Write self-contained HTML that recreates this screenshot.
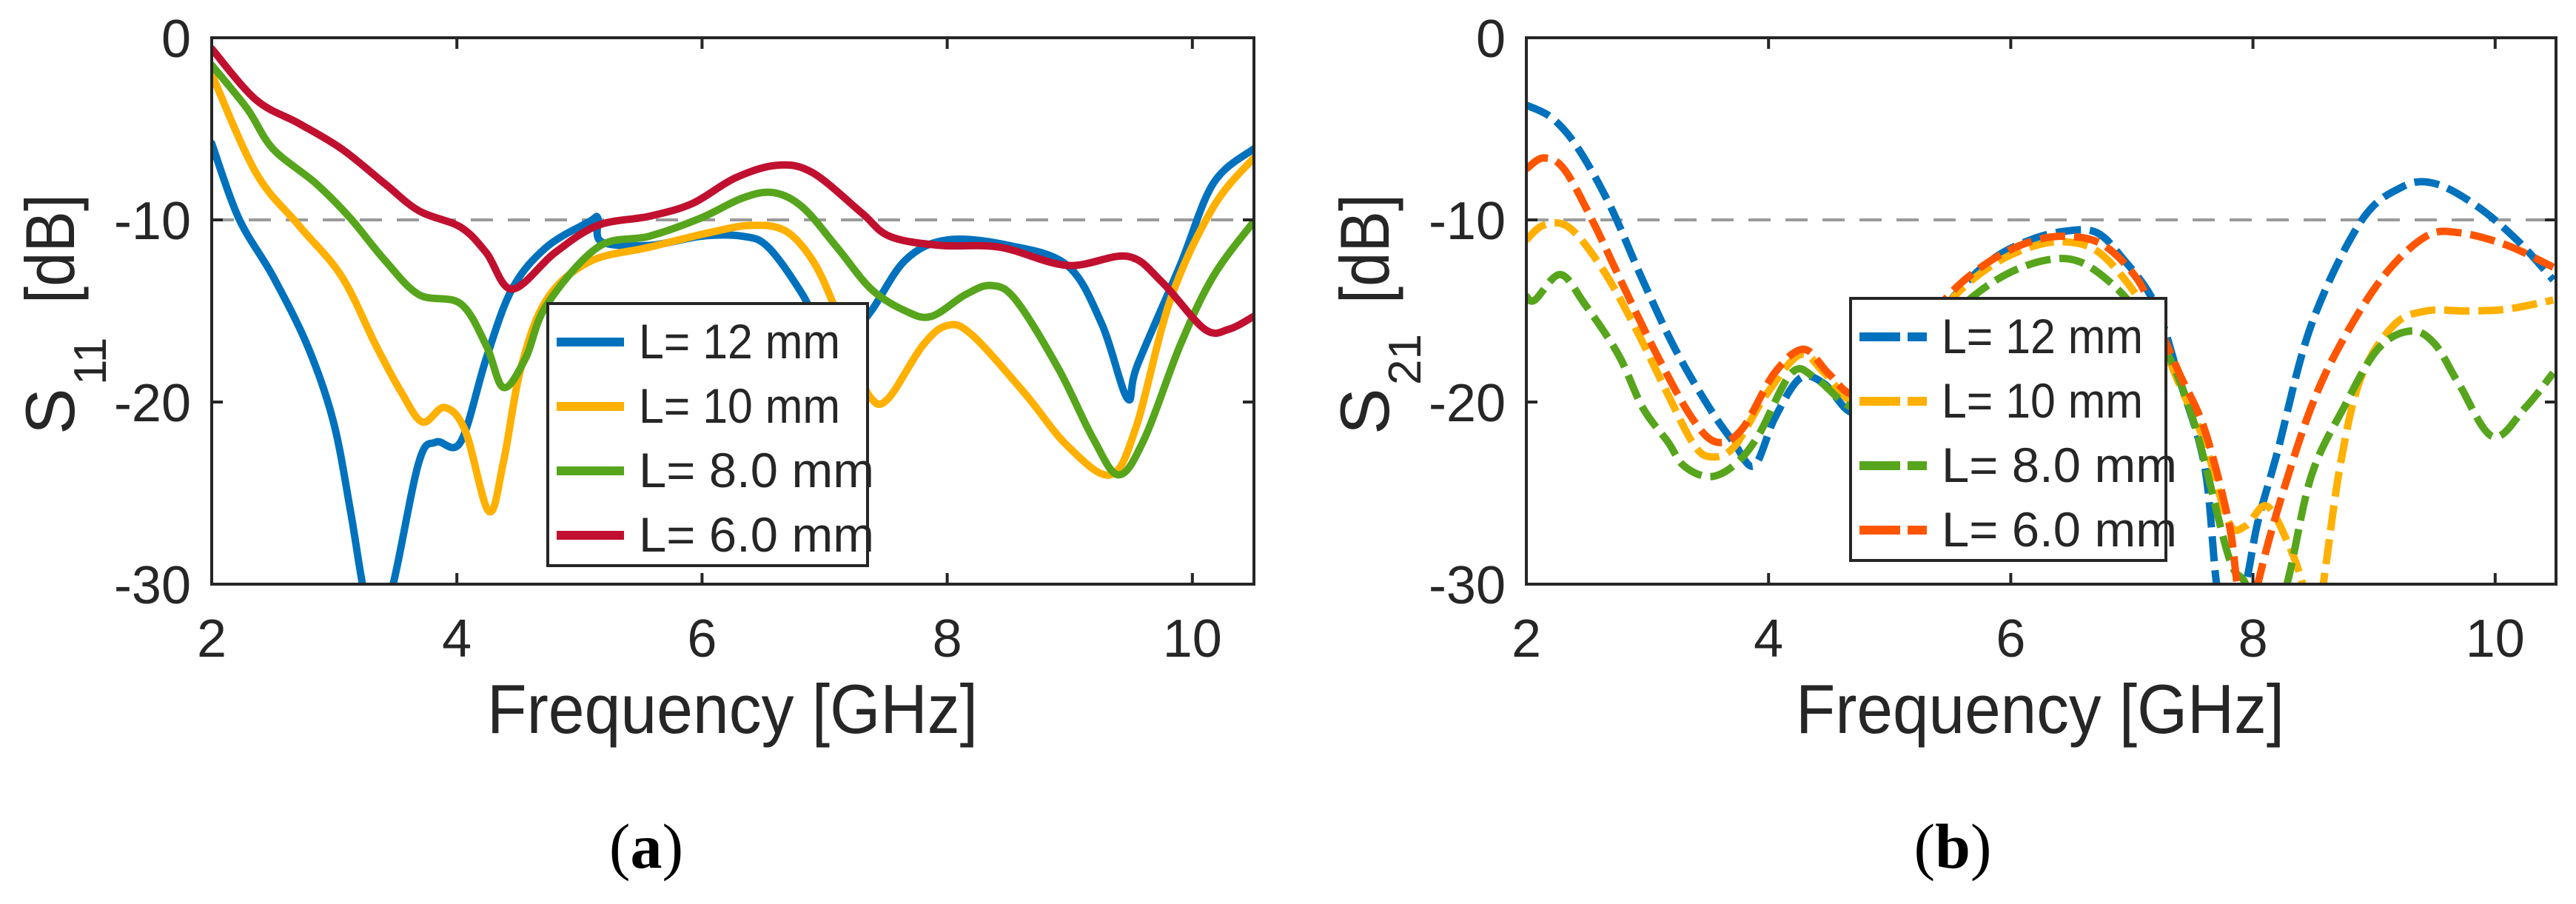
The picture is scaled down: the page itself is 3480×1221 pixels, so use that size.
<!DOCTYPE html>
<html><head><meta charset="utf-8"><style>
html,body{margin:0;padding:0;background:#fff;}
svg{display:block;}
text{font-family:"Liberation Sans",Arial,sans-serif;fill:#262626;}
</style></head><body>
<svg id="fig" width="3480" height="1221" viewBox="0 0 3480 1221" xmlns="http://www.w3.org/2000/svg">
<g id="panelA"></g>
<g id="panelB"></g>
<text x="873" y="1172" text-anchor="middle" style="font-family:'Liberation Serif',serif;font-size:86px;fill:#000">(<tspan font-weight="bold">a</tspan>)</text>
<text x="2638" y="1172" text-anchor="middle" style="font-family:'Liberation Serif',serif;font-size:86px;fill:#000">(<tspan font-weight="bold">b</tspan>)</text>
</svg>
<script>
const xTicks=[2,4,6,8,10];
const yTicks=[0,-10,-20,-30];
const legendLabels=["L= 12 mm","L= 10 mm","L= 8.0 mm","L= 6.0 mm"];
// Panel (a) S11
const a12x=[2,2.22,2.5,2.78,2.99,3.13,3.23,3.33,3.48,3.69,3.83,4.03,4.24,4.45,4.73,5.08,5.15,5.18,5.57,5.99,6.33,6.54,6.82,7.0,7.15,7.38,7.66,8.0,8.5,8.98,9.26,9.47,9.55,9.9,10.17,10.5];
const a12y=[-5.8,-9.9,-13.1,-16.9,-21,-25.9,-30,-33,-30,-23.3,-22.2,-22.2,-17.6,-13.8,-11.5,-10.1,-9.9,-11.2,-11.4,-10.9,-10.9,-11.5,-14.1,-16.5,-16.8,-15,-12.2,-11.1,-11.4,-12.5,-15.7,-19.8,-18,-12.5,-8,-6.1];
const a10x=[2,2.36,2.71,3.06,3.34,3.55,3.72,3.9,4.07,4.26,4.38,4.52,4.73,5.08,5.57,6.06,6.4,6.68,6.9,7.07,7.22,7.38,7.52,7.8,8.0,8.2,8.63,8.98,9.33,9.54,9.82,10.17,10.5];
const a10y=[-2,-7.4,-10.3,-13.1,-16.9,-19.5,-21.1,-20.3,-21.6,-26,-23.3,-18.2,-14.4,-12.3,-11.5,-10.7,-10.3,-10.6,-12.2,-14.6,-17.5,-19.8,-19.8,-16.9,-15.8,-16.3,-19.5,-22.4,-24,-21.4,-14.4,-9.3,-6.6];
const a8x=[2,2.29,2.5,2.85,3.13,3.41,3.69,4.03,4.24,4.38,4.56,4.73,5.15,5.57,5.99,6.33,6.58,6.82,7.1,7.38,7.66,7.87,8.15,8.36,8.56,8.91,9.19,9.4,9.61,9.9,10.17,10.5];
const a8y=[-1.5,-3.9,-6.1,-8.0,-9.9,-12.2,-14.1,-14.6,-16.9,-19.2,-17.6,-14.7,-11.5,-10.9,-9.9,-8.8,-8.5,-9.3,-11.5,-13.8,-15,-15.3,-14.1,-13.6,-14.4,-18.2,-22,-24,-22,-16.9,-13.1,-10.1];
const a6x=[2,2.36,2.71,3.06,3.41,3.69,4.03,4.24,4.45,4.8,5.15,5.57,5.92,6.27,6.61,6.9,7.3,7.53,7.94,8.43,8.98,9.47,9.75,10.1,10.3,10.5];
const a6y=[-0.6,-3.4,-4.7,-6.1,-8.0,-9.5,-10.4,-11.8,-13.8,-11.8,-10.3,-9.8,-9.1,-7.7,-7.0,-7.4,-9.6,-10.9,-11.4,-11.5,-12.5,-12.0,-13.4,-16,-16,-15.3];
// Panel (b) S21
const b12x=[2,2.21,2.42,2.69,2.96,3.23,3.51,3.71,3.88,4.05,4.26,4.46,4.7,5.0,5.2,5.48,5.82,6.16,6.47,6.71,6.91,7.19,7.39,7.6,7.7,7.8,7.94,8.04,8.2,8.48,8.89,9.23,9.5,9.84,10.18,10.48];
const b12y=[-3.7,-4.4,-6.0,-9.2,-13.3,-17.1,-20.3,-22.2,-23.5,-20.9,-18.7,-19.0,-20.6,-19.5,-17.5,-14.6,-12.3,-11.1,-10.6,-10.7,-12.0,-14.6,-18.7,-23.5,-30,-33,-30,-26.6,-22.8,-15.8,-10.1,-8.2,-8.0,-9.2,-11.1,-13.3];
const b10x=[2,2.14,2.35,2.62,2.89,3.17,3.37,3.51,3.71,3.98,4.26,4.46,4.7,5.0,5.2,5.48,5.82,6.16,6.44,6.71,6.98,7.2,7.39,7.6,7.8,7.94,8.11,8.28,8.41,8.5,8.58,8.72,8.89,9.16,9.43,9.77,10.1,10.48];
const b10y=[-11.1,-10.3,-10.4,-12.6,-15.8,-19.6,-22.2,-23,-22.5,-19.6,-17.4,-18.4,-20,-19.5,-17.5,-14.6,-12.6,-11.5,-11.2,-11.7,-13.6,-16,-19,-22.2,-26.6,-26.8,-25.7,-27.6,-30,-33,-30,-23.5,-18.7,-15.8,-15,-15,-14.9,-14.4];
const b8x=[2,2.07,2.28,2.48,2.76,2.96,3.17,3.3,3.51,3.71,3.91,4.19,4.39,4.7,5.0,5.3,5.62,5.96,6.3,6.57,6.85,7.1,7.32,7.53,7.8,7.94,8.1,8.28,8.48,8.75,9.03,9.3,9.5,9.7,9.98,10.25,10.48];
const b8y=[-14.2,-14.4,-13,-14.6,-17.4,-20.3,-22.2,-23.5,-24.1,-23.5,-21.9,-18.4,-18.7,-20.3,-19.5,-17,-14.6,-13,-12.2,-12.3,-13.6,-15.5,-17.7,-21.5,-28.5,-30,-33,-30,-24.1,-20.3,-17.1,-16.1,-16.8,-19,-21.9,-20.3,-18.4];
const b6x=[2,2.14,2.31,2.55,2.82,3.1,3.37,3.57,3.78,4.05,4.29,4.49,4.7,5.0,5.2,5.48,5.82,6.16,6.47,6.77,7.05,7.2,7.39,7.6,7.8,7.87,7.95,8.04,8.2,8.48,8.75,9.09,9.43,9.7,10.1,10.48];
const b6y=[-7.2,-6.6,-7.2,-10.1,-13.9,-17.7,-20.9,-22.2,-21.5,-18.4,-17.1,-18.4,-19.6,-19,-17,-14.2,-12.3,-11.2,-10.9,-11.4,-13.3,-15.5,-18.4,-21.5,-26.6,-30,-33,-30,-26,-20.3,-16.5,-13,-10.9,-10.7,-11.4,-12.6];
const refLevel=-10;

const NS="http://www.w3.org/2000/svg";
function mk(tag,attrs,parent){const e=document.createElementNS(NS,tag);for(const k in attrs)e.setAttribute(k,attrs[k]);parent.appendChild(e);return e;}
function smoothPath(P){
  let d='M'+P[0][0].toFixed(1)+','+P[0][1].toFixed(1);
  for(let i=0;i<P.length-1;i++){
    const p0=P[Math.max(0,i-1)],p1=P[i],p2=P[i+1],p3=P[Math.min(P.length-1,i+2)];
    const c1=[p1[0]+(p2[0]-p0[0])/6,p1[1]+(p2[1]-p0[1])/6];
    const c2=[p2[0]-(p3[0]-p1[0])/6,p2[1]-(p3[1]-p1[1])/6];
    d+=' C'+c1[0].toFixed(1)+','+c1[1].toFixed(1)+' '+c2[0].toFixed(1)+','+c2[1].toFixed(1)+' '+p2[0].toFixed(1)+','+p2[1].toFixed(1);
  }
  return d;
}

function panel(g,cfg){
  const L=cfg.left,R=cfg.right,T=51,B=789;
  const sx=v=>L+(v-2)*cfg.pxPerGHz;
  const sy=v=>T+(0-v)*(B-T)/30;
  const clipId='clip'+cfg.id;
  const defs=mk('defs',{},g);
  const cp=mk('clipPath',{id:clipId},defs);
  mk('rect',{x:L,y:T,width:R-L,height:B-T},cp);
  const bg=mk('rect',{x:L,y:T,width:R-L,height:B-T,fill:'#fff'},g);
  
  
  const rl=mk('line',{x1:L,x2:R,y1:sy(refLevel),y2:sy(refLevel),stroke:'#9a9a9a','stroke-width':4,'stroke-dasharray':'30 20'},g);
  
  
  const lines=mk('g',{'clip-path':'url(#'+clipId+')'},g);
  cfg.series.forEach((s,i)=>{
    const pts=s.x.map((v,j)=>[sx(v),sy(s.y[j])]);
    const p=mk('path',{d:smoothPath(pts),fill:'none',stroke:s.color,'stroke-width':10,'stroke-linejoin':'round','stroke-linecap':cfg.dash?'butt':'round'},lines);
    if(cfg.dash)p.setAttribute('stroke-dasharray',cfg.dash);
    
    
  });
  xTicks.forEach(t=>{
    mk('line',{x1:sx(t),x2:sx(t),y1:B,y2:B-15,stroke:'#262626','stroke-width':4},g);
    mk('line',{x1:sx(t),x2:sx(t),y1:T,y2:T+15,stroke:'#262626','stroke-width':4},g);
    const tl=mk('text',{x:sx(t),y:887,'text-anchor':'middle','font-size':72},g);
    tl.textContent=t;
    
    
  });
  yTicks.forEach(t=>{
    mk('line',{x1:L,x2:L+15,y1:sy(t),y2:sy(t),stroke:'#262626','stroke-width':4},g);
    mk('line',{x1:R,x2:R-15,y1:sy(t),y2:sy(t),stroke:'#262626','stroke-width':4},g);
    const tl=mk('text',{x:L-28,y:sy(t)+26,'text-anchor':'end','font-size':72},g);
    tl.textContent=t;
    
    
  });
  const fr=mk('rect',{x:L,y:T,width:R-L,height:B-T,fill:'none',stroke:'#262626','stroke-width':4},g);
  
  
  const xl=mk('text',{x:cfg.xlabX,y:990,'font-size':94,textLength:cfg.xlabW,lengthAdjust:'spacingAndGlyphs'},g);
  xl.textContent='Frequency [GHz]';
  
  
  const yl=mk('g',{transform:'translate('+cfg.ylabX+',587) rotate(-90)'},g);
  
  
  const t1=mk('text',{x:0,y:0,'font-size':94},yl);t1.textContent='S';
  const t2=mk('text',{x:67,y:43,'font-size':62},yl);t2.textContent=cfg.sub;
  const t3=mk('text',{x:177,y:0,'font-size':94,textLength:148,lengthAdjust:'spacingAndGlyphs'},yl);t3.textContent='[dB]';
  const lg=mk('g',{},g);
  
  
  const lx=cfg.legX,ly=cfg.legY;
  mk('rect',{x:lx,y:ly,width:cfg.legW,height:354,fill:'#fff',stroke:'#262626','stroke-width':4},lg);
  cfg.series.forEach((s,i)=>{
    const base=ly+74+i*87;
    const e=mk('g',{},lg);
    
    
    const ln=mk('line',{x1:lx+12,x2:lx+103,y1:base-22,y2:base-22,stroke:s.color,'stroke-width':12},e);
    if(cfg.dash)ln.setAttribute('stroke-dasharray','55 10');
    const tx=mk('text',{x:lx+123,y:base,'font-size':66,fill:'#000',textLength:legendLabels[i].indexOf('.')>0?318:272,lengthAdjust:'spacingAndGlyphs'},e);
    tx.textContent=legendLabels[i];
  });
}
panel(document.getElementById('panelA'),{id:'A',left:286,right:1694,pxPerGHz:165.6,xlabX:658,xlabW:663,ylabX:100,sub:'11',
  legX:740,legY:410,legW:432,dash:null,
  series:[{key:'l12',x:a12x,y:a12y,color:'#0072BD'},{key:'l10',x:a10x,y:a10y,color:'#FFB000'},{key:'l8',x:a8x,y:a8y,color:'#56A51C'},{key:'l6',x:a6x,y:a6y,color:'#C1102F'}]});
panel(document.getElementById('panelB'),{id:'B',left:2062,right:3453,pxPerGHz:163.6,xlabX:2426,xlabW:660,ylabX:1876,sub:'21',
  legX:2500,legY:403,legW:426,dash:'34 12',
  series:[{key:'l12',x:b12x,y:b12y,color:'#0072BD'},{key:'l10',x:b10x,y:b10y,color:'#FFB000'},{key:'l8',x:b8x,y:b8y,color:'#56A51C'},{key:'l6',x:b6x,y:b6y,color:'#FF5500'}]});
</script>
</body></html>
